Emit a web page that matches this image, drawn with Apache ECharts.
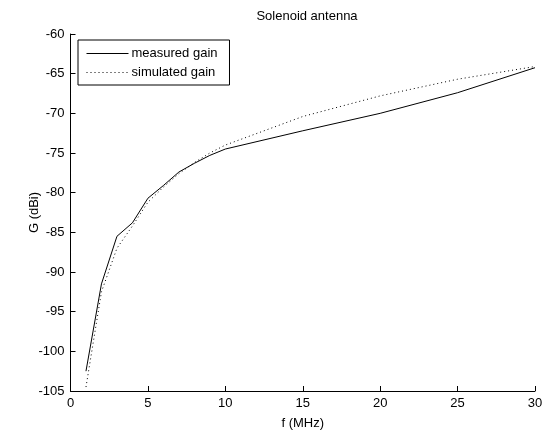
<!DOCTYPE html>
<html><head><meta charset="utf-8">
<script src="https://cdn.jsdelivr.net/npm/echarts@6/dist/echarts.min.js"></script>
<style>html,body{margin:0;padding:0;background:#fff}#c{width:549px;height:435px}</style>
</head><body><div id="c"></div>
<script>
const measuredF = [1, 2, 3, 4, 5, 6, 7, 8, 9, 10, 15, 20, 25, 30];
const measuredG = [-102.5, -91.5, -85.5, -83.8, -80.7, -79.1, -77.4, -76.3, -75.3, -74.5, -72.2, -70.0, -67.4, -64.25];
const simulatedF = [1, 2, 3, 4, 5, 6, 7, 8, 9, 10, 15, 20, 25, 30];
const simulatedG = [-104.5, -92.5, -87.0, -84.2, -81.2, -79.3, -77.6, -76.2, -75.0, -74.0, -70.4, -67.8, -65.7, -64.1];
const xTicks = [0, 5, 10, 15, 20, 25, 30];
const yTicks = [-105, -100, -95, -90, -85, -80, -75, -70, -65, -60];

const font = 'Liberation Sans, Arial, sans-serif';
const chart = echarts.init(document.getElementById('c'), null, {renderer: 'canvas'});
const axisCommon = {
  axisLine: {show: true, onZero: false, lineStyle: {color: '#000', width: 1}},
  axisTick: {show: true, inside: true, length: 5, lineStyle: {color: '#000'}},
  axisLabel: {color: '#000', fontFamily: font, fontSize: 13},
  splitLine: {show: false},
  nameTextStyle: {color: '#000', fontFamily: font, fontSize: 13}
};
chart.setOption({
  animation: false,
  backgroundColor: '#fff',
  title: {text: 'Solenoid antenna', left: 302, textAlign: 'center', top: 5,
    textStyle: {color: '#000', fontFamily: font, fontSize: 13, fontWeight: 'normal'}},
  legend: {
    orient: 'vertical', left: 78, top: 40,
    borderColor: '#000', borderWidth: 1, padding: [7, 12, 6, 8],
    itemWidth: 42, itemHeight: 10, itemGap: 6,
    itemStyle: {opacity: 0},
    lineStyle: {width: 1},
    textStyle: {color: '#000', fontFamily: font, fontSize: 13, padding: [0, 0, 0, -2]},
    data: ['measured gain', 'simulated gain']
  },
  grid: {left: 70.5, right: 14, top: 34, bottom: 38, containLabel: false},
  xAxis: Object.assign({}, axisCommon, {
    type: 'value', min: 0, max: 30, interval: 5,
    name: 'f (MHz)', nameLocation: 'middle', nameGap: 26, nameMoveOverlap: false,
    axisLabel: Object.assign({}, axisCommon.axisLabel, {margin: 6,
      formatter: v => xTicks.includes(v) ? String(v) : ''})
  }),
  yAxis: Object.assign({}, axisCommon, {
    type: 'value', min: -105, max: -60, interval: 5,
    name: 'G (dBi)', nameLocation: 'middle', nameGap: 30, nameMoveOverlap: false,
    axisLabel: Object.assign({}, axisCommon.axisLabel, {margin: 6,
      formatter: v => yTicks.includes(v) ? String(v) : ''})
  }),
  series: [
    {name: 'measured gain', type: 'line', symbol: 'none', showSymbol: false,
     data: measuredF.map((f, i) => [f, measuredG[i]]),
     lineStyle: {color: '#000', width: 1, type: 'solid'}, itemStyle: {color: '#000'}},
    {name: 'simulated gain', type: 'line', symbol: 'none', showSymbol: false,
     data: simulatedF.map((f, i) => [f, simulatedG[i]]),
     lineStyle: {color: '#000', width: 1, type: [1, 3]}, itemStyle: {color: '#000'}}
  ]
});
</script></body></html>
